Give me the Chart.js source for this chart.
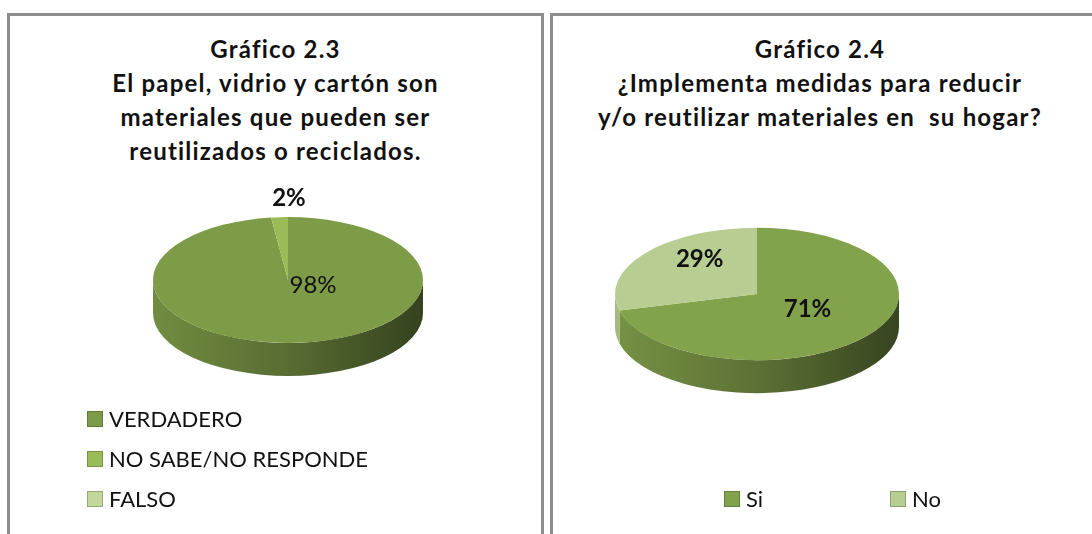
<!DOCTYPE html>
<html>
<head>
<meta charset="utf-8">
<script src="https://cdn.jsdelivr.net/npm/chart.js@4.4.1/dist/chart.umd.min.js"></script>
<style>
  html, body { margin: 0; padding: 0; background: #ffffff; }
  body { width: 1092px; height: 534px; position: relative; overflow: hidden; font-family: Lato, "Open Sans", sans-serif; color: #111; }
  .panel { position: absolute; top: 13px; height: 560px; border: 3px solid #8e8e8e; border-bottom: none; box-sizing: border-box; background: #fff; }
  .title { position: absolute; top: 32px; text-align: center; font-weight: bold; font-size: 24px; letter-spacing: 1.2px; line-height: 34px; color: #111; }
  canvas { position: absolute; top: 0; }
  .leg { position: absolute; font-size: 22px; line-height: 26px; height: 26px; display: flex; align-items: center; white-space: nowrap; color: #111; }
  .leg i { display: inline-block; width: 14px; height: 14px; border: 1px solid; margin-right: 6px; }
</style>
</head>
<body>
<div class="panel" style="left:7px; width:537px;"></div>
<div class="panel" style="left:550px; width:560px;"></div>
<div class="title" id="titleA" style="left:10px; width:531px;"></div>
<div class="title" id="titleB" style="left:553px; width:534px;"></div>
<canvas id="cA" width="546" height="534" style="left:0px;"></canvas>
<canvas id="cB" width="546" height="534" style="left:546px;"></canvas>
<div id="legA"></div>
<div id="legB"></div>
<script>
// ---- data ----
const titleA = ['Gráfico 2.3', 'El papel, vidrio y cartón son', 'materiales que pueden ser', 'reutilizados o reciclados.'];
const labelsA = ['VERDADERO', 'NO SABE/NO RESPONDE', 'FALSO'];
const valuesA = [98, 2, 0];

const titleB = ['Gráfico 2.4', '¿Implementa medidas para reducir', 'y/o reutilizar materiales en  su hogar?'];
const labelsB = ['Si', 'No'];
const valuesB = [71, 29];

// ---- styles ----
const colorsA = ['#7e9c48', '#9bbb59', '#c3d69b'];
const colorsB = ['#83a24c', '#b7cd92'];

function shade(hex, f) {
  const n = parseInt(hex.slice(1), 16);
  const r = Math.round(((n >> 16) & 255) * f), g = Math.round(((n >> 8) & 255) * f), b = Math.round((n & 255) * f);
  return 'rgb(' + r + ',' + g + ',' + b + ')';
}

const pie3d = {
  id: 'pie3d',
  beforeDatasetsDraw(chart, args, opts) {
    const ctx = chart.ctx;
    const arcs = chart.getDatasetMeta(0).data;
    if (!arcs.length) return;
    const cx = arcs[0].x, cy = arcs[0].y, r = arcs[0].outerRadius;
    const k = opts.tilt, d = opts.depth, ry = r * k;
    const cols = chart.data.datasets[0].backgroundColor;
    arcs.forEach((arc, i) => {
      const s = Math.max(arc.startAngle, 0), e = Math.min(arc.endAngle, Math.PI);
      if (e <= s) return;
      const g = ctx.createLinearGradient(cx - r, 0, cx + r, 0);
      g.addColorStop(0, shade(cols[i], 0.9));
      g.addColorStop(0.5, shade(cols[i], 0.7));
      g.addColorStop(1, shade(cols[i], 0.42));
      ctx.beginPath();
      ctx.ellipse(cx, cy, r, ry, 0, s, e, false);
      ctx.lineTo(cx + r * Math.cos(e), cy + ry * Math.sin(e) + d);
      ctx.ellipse(cx, cy + d, r, ry, 0, e, s, true);
      ctx.closePath();
      ctx.fillStyle = g;
      ctx.fill();
    });
    ctx.save();
    ctx.translate(cx, cy);
    ctx.scale(1, k);
    ctx.translate(-cx, -cy);
  },
  afterDatasetsDraw(chart, args, opts) {
    const ctx = chart.ctx;
    const arcs = chart.getDatasetMeta(0).data;
    if (!arcs.length) return;
    ctx.restore();
    const cx = arcs[0].x, cy = arcs[0].y, r = arcs[0].outerRadius;
    const ry = r * opts.tilt;
    const vals = chart.data.datasets[0].data;
    const total = vals.reduce((a, b) => a + b, 0);
    ctx.save();
    ctx.textAlign = 'center';
    ctx.textBaseline = 'middle';
    ctx.fillStyle = '#111';
    arcs.forEach((arc, i) => {
      const p = opts.place[i];
      if (!p || vals[i] === 0) return;
      const a = (arc.startAngle + arc.endAngle) / 2;
      const x = cx + Math.cos(a) * r * p.f + p.dx;
      const y = cy + Math.sin(a) * ry * p.f + p.dy;
      ctx.font = (p.bold ? 'bold ' : '') + '24px Lato, sans-serif';
      ctx.fillText(Math.round(vals[i] / total * 100) + '%', x, y);
    });
    ctx.restore();
  }
};

function makePie(id, labels, values, colors, center, radius, place) {
  const cv = document.getElementById(id);
  const W = cv.width, H = cv.height;
  const pad = { left: Math.max(0, 2 * center[0] - W), right: Math.max(0, W - 2 * center[0]),
                top: Math.max(0, 2 * center[1] - H), bottom: Math.max(0, H - 2 * center[1]) };
  return new Chart(cv, {
    type: 'pie',
    data: { labels: labels, datasets: [{ data: values, backgroundColor: colors, borderWidth: 0, hoverOffset: 0, radius: radius }] },
    options: {
      responsive: false, animation: false, events: [],
      layout: { padding: pad },
      plugins: { legend: { display: false }, tooltip: { enabled: false },
                 pie3d: { tilt: 0.466, depth: 33, place: place } }
    },
    plugins: [pie3d]
  });
}

makePie('cA', labelsA, valuesA, colorsA, [288, 280], 135,
  [{ f: 0, dx: 25, dy: 5, bold: false }, { f: 1.3, dx: 12, dy: 0, bold: true }, null]);
makePie('cB', labelsB, valuesB, colorsB, [757 - 546, 294], 142,
  [{ f: 0.45, dx: 0, dy: -3, bold: true }, { f: 0.6, dx: 10, dy: -10, bold: true }]);

function setTitle(id, lines) {
  const el = document.getElementById(id);
  lines.forEach(t => { const d = document.createElement('div'); d.textContent = t; d.style.whiteSpace = 'pre'; el.appendChild(d); });
}
setTitle('titleA', titleA);
setTitle('titleB', titleB);

function legendItem(parent, text, color, x, yc) {
  const d = document.createElement('div');
  d.className = 'leg';
  d.style.left = x + 'px';
  d.style.top = (yc - 13) + 'px';
  const sq = document.createElement('i');
  sq.style.background = color;
  sq.style.borderColor = shade(color, 0.78);
  d.appendChild(sq);
  d.appendChild(document.createTextNode(text));
  parent.appendChild(d);
}
const legA = document.getElementById('legA');
labelsA.forEach((t, i) => legendItem(legA, t, colorsA[i], 87, 419 + i * 40));
const legB = document.getElementById('legB');
labelsB.forEach((t, i) => legendItem(legB, t, colorsB[i], 724 + i * 166, 499));
</script>
</body>
</html>
